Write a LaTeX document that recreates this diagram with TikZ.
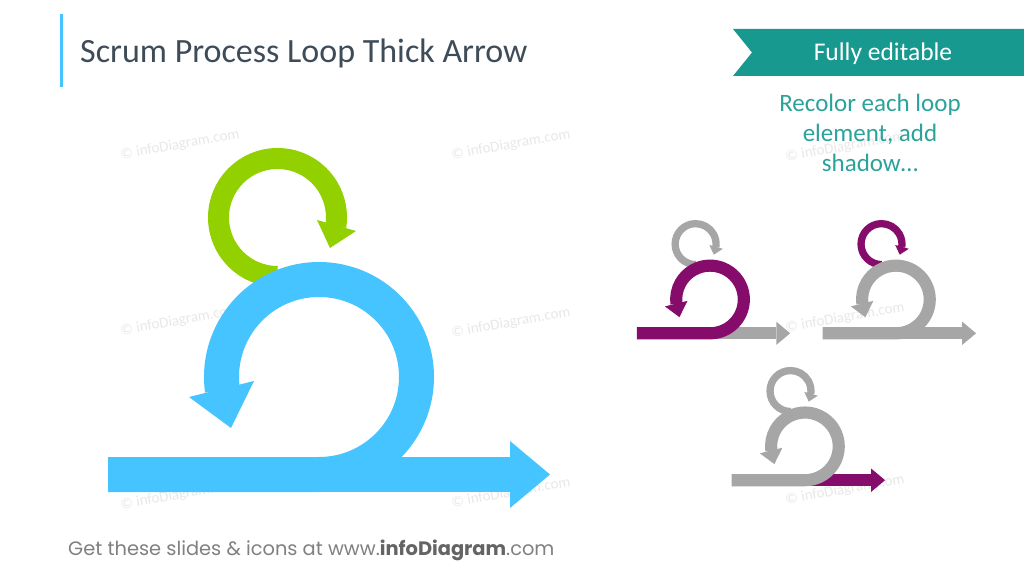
\documentclass[tikz,border=0pt]{standalone}
\usepackage{fontspec}
\setmainfont{Carlito}
\newfontfamily\footfont{Poppins}
\definecolor{sblue}{RGB}{69,196,255}
\definecolor{sgreen}{RGB}{146,208,0}
\definecolor{spurple}{RGB}{134,12,107}
\definecolor{sgray}{RGB}{166,166,166}
\definecolor{steal}{RGB}{23,153,143}
\definecolor{stealtext}{RGB}{43,163,154}
\definecolor{titlecol}{RGB}{62,76,89}
\definecolor{footgray}{RGB}{128,128,128}
\definecolor{footdark}{RGB}{100,100,100}
\definecolor{wmgray}{RGB}{232,232,232}
\tikzset{
  wm/.style={text=wmgray, font=\fontsize{15}{15}\selectfont, rotate=10, inner sep=0pt},
  titletext/.style={text=titlecol, font=\fontsize{34}{34}\selectfont, anchor=base west, inner sep=0pt},
  bannertext/.style={text=white, font=\fontsize{25.5}{25.5}\selectfont, anchor=base, inner sep=0pt},
  notetext/.style={text=stealtext, font=\fontsize{25}{30}\selectfont, align=center, anchor=base, inner sep=0pt},
  foottext/.style={text=footgray, font=\footfont\fontsize{19.4}{19.4}\selectfont, anchor=base west, inner sep=0pt}
}
% #1 name, #2 x, #3 y, #4 scale, #5 loop colour, #6 exit colour, #7 small loop colour
\newcommand\scrumloopicon[7]{%
\begin{scope}[shift={(#2,#3)}, scale=#4]
  \coordinate (#1-B) at (0,0);
  \coordinate (#1-S) at (-41.5,198);
  \coordinate (#1-L) at (-211,0);
  \coordinate (#1-X) at (191,0);
  % small loop
  \draw[line width=#4*21pt, draw=#7] (#1-S) arc[start angle=270, end angle=-9, radius=59];
  \fill[#7] (-2,254.5) -- (11,226.5) -- (37,243.5) -- cycle;
  % exit bar
  \draw[line width=#4*35pt, draw=#6] (#1-B) -- (#1-X);
  \fill[#6] (191,33.5) -- (231,0) -- (191,-33.5) -- cycle;
  % main loop
  \draw[line width=#4*35pt, draw=#5] (#1-L) -- (#1-B) arc[start angle=-90, end angle=188, radius=97.5];
  \fill[#5] (-130,77.5) -- (-88,46.5) -- (-65,93.5) -- cycle;
\end{scope}}
\begin{document}
\begin{tikzpicture}[x=1pt,y=1pt]
\useasboundingbox (0,0) rectangle (1024,576);
\fill[white] (0,0) rectangle (1024,576);
% watermarks
\foreach \wx/\wy [count=\i] in {180/431, 511/431, 845/429, 180/255, 511/253, 845/258, 180/81, 511/83, 845/86}
  \node[wm] (wm\i) at (\wx,\wy) {© infoDiagram.com};
% title
\draw[sblue, line width=3.5pt] (61.5,562) -- (61.5,489);
\node[titletext] (title) at (80,513) {Scrum Process Loop Thick Arrow};
% banner
\fill[steal] (733,547) -- (1024,547) -- (1024,500) -- (733,500) -- (752,523.5) -- cycle;
\node[bannertext] (banner) at (883,515) {Fully editable};
\node[notetext] (note) at (870,404.3) {Recolor each loop\\element, add\\shadow…};
% main diagram
\scrumloopicon{main}{319}{101.5}{1}{sblue}{sblue}{sgreen}
% small variants
\scrumloopicon{ia}{710}{242.7}{0.347}{spurple}{sgray}{sgray}
\scrumloopicon{ib}{895.9}{242.7}{0.347}{sgray}{sgray}{spurple}
\scrumloopicon{ic}{804.9}{95.8}{0.347}{sgray}{spurple}{sgray}
% footer
\node[foottext] (foot) at (68,21) {Get these slides \& icons at www.\textcolor{footdark}{\bfseries infoDiagram}.com};
\end{tikzpicture}
\end{document}
